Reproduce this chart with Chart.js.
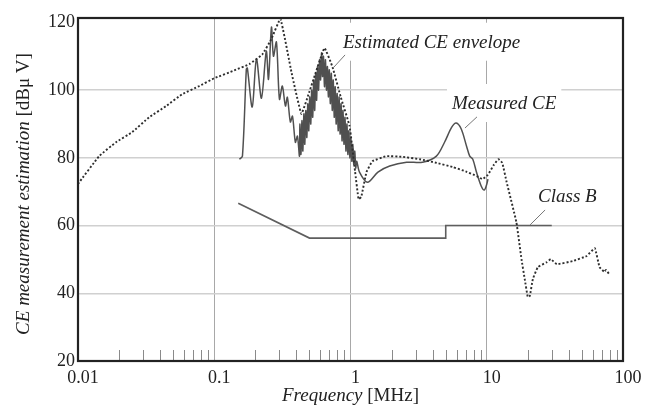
<!DOCTYPE html>
<html>
<head>
<meta charset="utf-8">
<script src="https://cdn.jsdelivr.net/npm/chart.js@4.4.0/dist/chart.umd.min.js"></script>
<style>
    html, body { margin: 0; padding: 0; background: #fff; }
</style>
</head>
<body>
<canvas id="ceChart" width="654" height="410"></canvas>
<script>
// Axis ticks
const xTicks = [0.01, 0.1, 1, 10, 100];
const xTickLabels = ['0.01', '0.1', '1', '10', '100'];
const yTicks = [20, 40, 60, 80, 100, 120];

// Estimated CE envelope (dotted)
const envFreq = [0.01, 0.0143, 0.019, 0.025, 0.0333, 0.0444, 0.0582, 0.0776, 0.1, 0.14, 0.181, 0.225, 0.262, 0.306,
    0.37, 0.436, 0.5, 0.644, 0.738, 0.85, 0.984, 1.08, 1.146, 1.2, 1.31, 1.45, 1.83, 2.4, 3.22, 4.3, 5.62, 7, 8.44, 9.3,
    10.2, 11.3, 12.2, 13.0, 14.0, 16.5, 18.0, 19.0, 20.0, 20.7, 21.8, 23.7, 27.6, 29.5, 32.7, 42.7, 54.1, 62.1, 67.3,
    73.1, 75, 79];
const envLevel = [72.3, 80.5, 84.6, 87.6, 92, 95.3, 98.8, 101.2, 103.5, 105.8, 107.7, 110.5, 115, 121,
    105, 93, 99.6, 112.4, 106.8, 97.8, 89.4, 76, 67.8, 68.5, 75.8, 79, 80.5, 80.3, 79.6, 78.5, 77.3, 76, 74.6, 73.7,
    75, 78, 79.6, 78.5, 72.8, 61, 50, 44.2, 38.9, 39.2, 44.2, 47.7, 49.2, 50.1, 48.6, 49.5, 51, 53.3, 47.7,
    46.3, 46.9, 45.7];

// Measured CE (solid, oscillating)
const measFreq = [0.153, 0.161, 0.172, 0.175, 0.190, 0.204, 0.222, 0.241, 0.250, 0.263, 0.272, 0.286, 0.301, 0.316,
    0.333, 0.344, 0.362, 0.375, 0.394, 0.408, 0.422,
    0.425, 0.433, 0.440, 0.447, 0.455, 0.462, 0.470, 0.478, 0.486, 0.494, 0.502, 0.511, 0.519, 0.528, 0.537, 0.546,
    0.555, 0.564, 0.573, 0.583, 0.593, 0.603, 0.613, 0.623, 0.633,
    0.644, 0.655, 0.666, 0.677, 0.688, 0.699, 0.711, 0.723, 0.735, 0.747, 0.760, 0.772, 0.785, 0.798, 0.812, 0.825,
    0.839, 0.853, 0.867, 0.881, 0.896, 0.911, 0.926, 0.942, 0.957, 0.973, 0.990, 1.006, 1.023, 1.040, 1.057, 1.075,
    1.093, 1.111, 1.164,
    1.334, 1.59, 1.94, 2.58, 3.38, 4.27, 4.9, 5.52, 5.97, 6.5, 7.1, 7.5, 7.9, 8.4, 9.1, 9.6, 10.0, 10.2];
const measLevel = [79.6, 80.5, 106.2, 106.5, 95, 109.2, 97.6, 111.5, 103.2, 118.6, 110, 114.2, 97.3, 101.2,
    95.3, 97.9, 90.6, 92.3, 84.6, 86.4, 80.5,
    90, 81, 91, 82, 93, 84, 94, 86, 96, 88, 98, 90, 100, 92, 103, 94,
    105, 97, 107, 100, 109, 103, 111, 104, 110,
    101, 109, 100, 107, 98, 106, 96, 105, 94, 103, 92, 101, 90, 99, 88, 98,
    87, 96, 85, 94, 84, 92, 82, 90, 81, 88, 80, 86, 79, 84, 78, 82,
    77, 79, 75.8,
    72.8, 75.8, 77.6, 78.7, 78.7, 80.5, 84.6, 89, 90.3, 88.5, 83.5, 80.5, 79.6, 75.8, 71.7, 70.5, 72.2, 73.7];

// Class B limit
const classBFreq = [0.15, 0.5, 5, 5, 30];
const classBLevel = [66.6, 56.3, 56.3, 60, 60];

const serif = "'Liberation Serif', 'DejaVu Serif', serif";

// text notes with leader lines, anchored in data coordinates
const notes = [
    { text: 'Estimated CE envelope', f: 0.88, v: 114, from: [0.912, 110.4], to: [0.744, 106.5] },
    { text: 'Measured CE', f: 5.56, v: 95.9, from: [8.48, 92.1], to: [6.92, 88.8] },
    { text: 'Class B', f: 23.8, v: 68.4, from: [26.8, 64.6], to: [20.8, 60.2] }
];

function toPoints(xs, ys) {
    return xs.map((x, i) => ({ x: x, y: ys[i] }));
}

const decorPlugin = {
    id: 'decor',
    beforeDatasetsDraw(chart) {
        // white boxes behind the notes hide the grid there
        const { ctx, scales } = chart;
        ctx.save();
        ctx.font = 'italic 19px ' + serif;
        ctx.fillStyle = '#fff';
        notes.forEach(n => {
            const x = scales.x.getPixelForValue(n.f);
            const y = scales.y.getPixelForValue(n.v);
            const w = ctx.measureText(n.text).width;
            ctx.fillRect(x - 5, y - 20, w + 10, 38);
        });
        ctx.restore();
    },
    afterDatasetsDraw(chart) {
        const { ctx, chartArea, scales } = chart;
        const xs = scales.x, ys = scales.y;
        ctx.save();

        // minor ticks along the bottom, inside the frame
        ctx.strokeStyle = '#8a8a8a';
        ctx.lineWidth = 1;
        xTicks.slice(0, -1).forEach(d => {
            for (let k = 2; k <= 9; k++) {
                const px = Math.round(xs.getPixelForValue(d * k)) + 0.5;
                ctx.beginPath();
                ctx.moveTo(px, chartArea.bottom);
                ctx.lineTo(px, chartArea.bottom - 11);
                ctx.stroke();
            }
        });

        // frame
        ctx.strokeStyle = '#222';
        ctx.lineWidth = 2.2;
        ctx.strokeRect(chartArea.left, chartArea.top, chartArea.right - chartArea.left, chartArea.bottom - chartArea.top);

        // notes and leader lines
        ctx.font = 'italic 19px ' + serif;
        ctx.fillStyle = '#222';
        ctx.textBaseline = 'middle';
        ctx.textAlign = 'left';
        notes.forEach(n => {
            ctx.fillText(n.text, xs.getPixelForValue(n.f), ys.getPixelForValue(n.v));
            ctx.strokeStyle = '#777';
            ctx.lineWidth = 1;
            ctx.beginPath();
            ctx.moveTo(xs.getPixelForValue(n.from[0]), ys.getPixelForValue(n.from[1]));
            ctx.lineTo(xs.getPixelForValue(n.to[0]), ys.getPixelForValue(n.to[1]));
            ctx.stroke();
        });

        // axis titles: italic name + upright unit
        function mixed(a, b, cx, cy) {
            ctx.font = 'italic 19px ' + serif;
            const w1 = ctx.measureText(a).width;
            ctx.font = '19px ' + serif;
            const w2 = ctx.measureText(b).width;
            const x0 = cx - (w1 + w2) / 2;
            ctx.font = 'italic 19px ' + serif;
            ctx.fillText(a, x0, cy);
            ctx.font = '19px ' + serif;
            ctx.fillText(b, x0 + w1, cy);
        }
        ctx.textBaseline = 'middle';
        mixed('Frequency', ' [MHz]', (chartArea.left + chartArea.right) / 2, 396);

        ctx.translate(24, 194);
        ctx.rotate(-Math.PI / 2);
        mixed('CE measurement estimation', ' [dBμ V]', 0, 0);
        ctx.restore();
    }
};

new Chart(document.getElementById('ceChart'), {
    type: 'line',
    data: {
        datasets: [
            {
                label: 'Estimated CE envelope',
                data: toPoints(envFreq, envLevel),
                borderColor: '#2e2e2e',
                borderWidth: 1.9,
                borderDash: [2, 2],
                pointRadius: 0,
                tension: 0.1
            },
            {
                label: 'Measured CE',
                data: toPoints(measFreq, measLevel),
                borderColor: '#505050',
                borderWidth: 1.5,
                pointRadius: 0,
                tension: 0.3
            },
            {
                label: 'Class B',
                data: toPoints(classBFreq, classBLevel),
                borderColor: '#5e5e5e',
                borderWidth: 1.6,
                pointRadius: 0,
                tension: 0
            }
        ]
    },
    options: {
        responsive: false,
        animation: false,
        layout: { padding: { top: 18, right: 31, left: 0, bottom: 0 } },
        plugins: {
            legend: { display: false },
            tooltip: { enabled: false }
        },
        scales: {
            x: {
                type: 'logarithmic',
                min: 0.01,
                max: 100,
                afterBuildTicks: s => { s.ticks = xTicks.map(v => ({ value: v })); },
                afterFit: s => { s.height = 49; },
                grid: { color: '#a8a8a8', lineWidth: 1, drawTicks: false },
                border: { display: false },
                ticks: {
                    autoSkip: false,
                    maxRotation: 0,
                    padding: 6,
                    labelOffset: 5,
                    color: '#222',
                    font: { family: serif, size: 18 },
                    callback: (v, i) => xTickLabels[i]
                }
            },
            y: {
                type: 'linear',
                min: 20,
                max: 121.3,
                afterBuildTicks: s => { s.ticks = yTicks.map(v => ({ value: v })); },
                afterFit: s => { s.width = 78; },
                grid: {
                    color: c => (c.tick && c.tick.value === 120) ? 'rgba(0,0,0,0)' : '#d0d0d0',
                    lineWidth: 1.5,
                    drawTicks: false
                },
                border: { display: false },
                ticks: {
                    padding: 3,
                    color: '#222',
                    font: { family: serif, size: 18 },
                    callback: v => String(v)
                }
            }
        }
    },
    plugins: [decorPlugin]
});
</script>
</body>
</html>
